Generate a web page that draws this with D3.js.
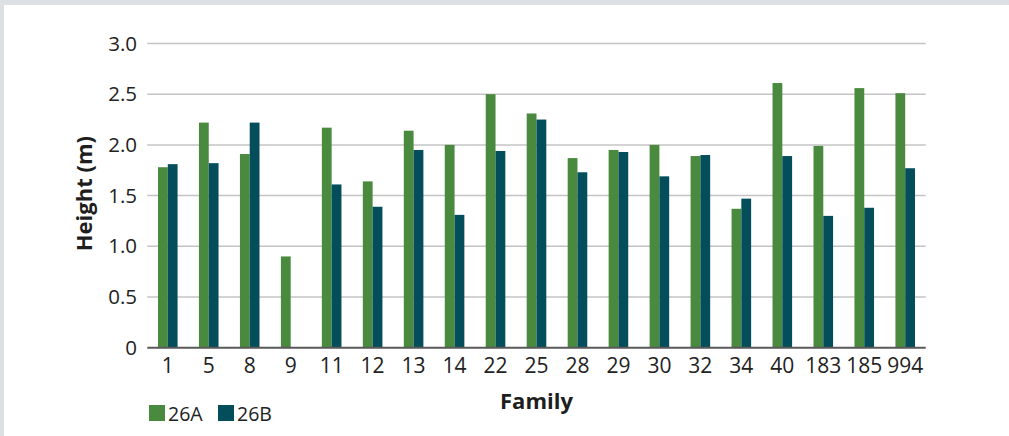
<!DOCTYPE html>
<html>
<head>
<meta charset="utf-8">
<script src="https://cdn.jsdelivr.net/npm/d3@7"></script>
<style>
  html, body { margin: 0; padding: 0; background: #dde0e3; }
  #chart { position: absolute; left: 4px; top: 5px; width: 1005px; height: 431px; background: #fff; overflow: hidden; }
  svg { display: block; font-family: "Open Sans", sans-serif; }
</style>
</head>
<body>
<div id="chart"></div>
<script>
var families = ["1", "5", "8", "9", "11", "12", "13", "14", "22", "25", "28", "29", "30", "32", "34", "40", "183", "185", "994"];
var series = ["26A", "26B"];
var values26A = [1.78, 2.22, 1.91, 0.90, 2.17, 1.64, 2.14, 2.00, 2.50, 2.31, 1.87, 1.95, 2.00, 1.89, 1.37, 2.61, 1.99, 2.56, 2.51];
var values26B = [1.81, 1.82, 2.22, 0, 1.61, 1.39, 1.95, 1.31, 1.94, 2.25, 1.73, 1.93, 1.69, 1.90, 1.47, 1.89, 1.30, 1.38, 1.77];
var yTicks = [0, 0.5, 1.0, 1.5, 2.0, 2.5, 3.0];
var colors = ["#4a8a3f", "#034e5a"];

var width = 1009, height = 436;
// svg uses window coordinates, shifted back by the frame offset
var svg = d3.select("#chart").append("svg")
  .attr("width", width)
  .attr("height", height)
  .style("margin-left", "-4px")
  .style("margin-top", "-5px");

var plotLeft = 147.3, plotRight = 925.7, plotTop = 43.5, plotBottom = 347.7;

var x0 = d3.scaleBand()
  .domain(families)
  .range([plotLeft, plotRight])
  .paddingInner(0.522)
  .paddingOuter(0.261);

var x1 = d3.scaleBand()
  .domain(series)
  .range([0, x0.bandwidth()]);

var y = d3.scaleLinear()
  .domain([0, 3])
  .range([plotBottom, plotTop]);

// gridlines
svg.append("g")
  .attr("class", "grid")
  .selectAll("line")
  .data(yTicks.filter(function(d) { return d > 0; }))
  .enter().append("line")
  .attr("x1", plotLeft)
  .attr("x2", plotRight)
  .attr("y1", function(d) { return y(d); })
  .attr("y2", function(d) { return y(d); })
  .attr("stroke", "#c4c4c4")
  .attr("stroke-width", 1.5);

// y tick labels
svg.append("g")
  .selectAll("text")
  .data(yTicks)
  .enter().append("text")
  .attr("x", 137)
  .attr("y", function(d) { return y(d); })
  .attr("dy", "0.35em")
  .attr("text-anchor", "end")
  .attr("font-size", "20.5px")
  .attr("fill", "#222")
  .text(function(d) { return d === 0 ? "0" : d3.format(".1f")(d); });

// bars
var table = families.map(function(f, i) {
  return { family: f, vals: [values26A[i], values26B[i]] };
});

var groups = svg.append("g")
  .selectAll("g")
  .data(table)
  .enter().append("g")
  .attr("transform", function(d) { return "translate(" + x0(d.family) + ",0)"; });

groups.selectAll("rect")
  .data(function(d) { return d.vals.map(function(v, j) { return { key: series[j], value: v, j: j }; }); })
  .enter().append("rect")
  .attr("x", function(d) { return x1(d.key); })
  .attr("width", x1.bandwidth())
  .attr("y", function(d) { return y(d.value); })
  .attr("height", function(d) { return y(0) - y(d.value); })
  .attr("fill", function(d) { return colors[d.j]; });

// baseline
svg.append("line")
  .attr("x1", plotLeft)
  .attr("x2", plotRight)
  .attr("y1", plotBottom)
  .attr("y2", plotBottom)
  .attr("stroke", "#595959")
  .attr("stroke-width", 2);

// x tick labels
svg.append("g")
  .selectAll("text")
  .data(families)
  .enter().append("text")
  .attr("x", function(d) { return x0(d) + x0.bandwidth() / 2; })
  .attr("y", plotBottom + 25.6)
  .attr("text-anchor", "middle")
  .attr("font-size", "21px")
  .attr("fill", "#222")
  .text(function(d) { return d; });

// axis titles
svg.append("text")
  .attr("x", (plotLeft + plotRight) / 2)
  .attr("y", 409)
  .attr("text-anchor", "middle")
  .attr("font-size", "22px")
  .attr("font-weight", "bold")
  .attr("fill", "#1e1e1e")
  .text("Family");

svg.append("text")
  .attr("transform", "translate(92," + ((plotTop + plotBottom) / 2 - 2) + ") rotate(-90)")
  .attr("text-anchor", "middle")
  .attr("font-size", "22px")
  .attr("font-weight", "bold")
  .attr("fill", "#1e1e1e")
  .text("Height (m)");

// legend
var legend = svg.append("g")
  .attr("class", "legend")
  .selectAll("g")
  .data(series)
  .enter().append("g")
  .attr("transform", function(d, i) { return "translate(" + (149 + i * 69) + ",405)"; });

legend.append("rect")
  .attr("width", 16)
  .attr("height", 16)
  .attr("fill", function(d, i) { return colors[i]; });

legend.append("text")
  .attr("x", 19)
  .attr("y", 15.5)
  .attr("font-size", "19.5px")
  .attr("fill", "#222")
  .text(function(d) { return d; });
</script>
</body>
</html>
